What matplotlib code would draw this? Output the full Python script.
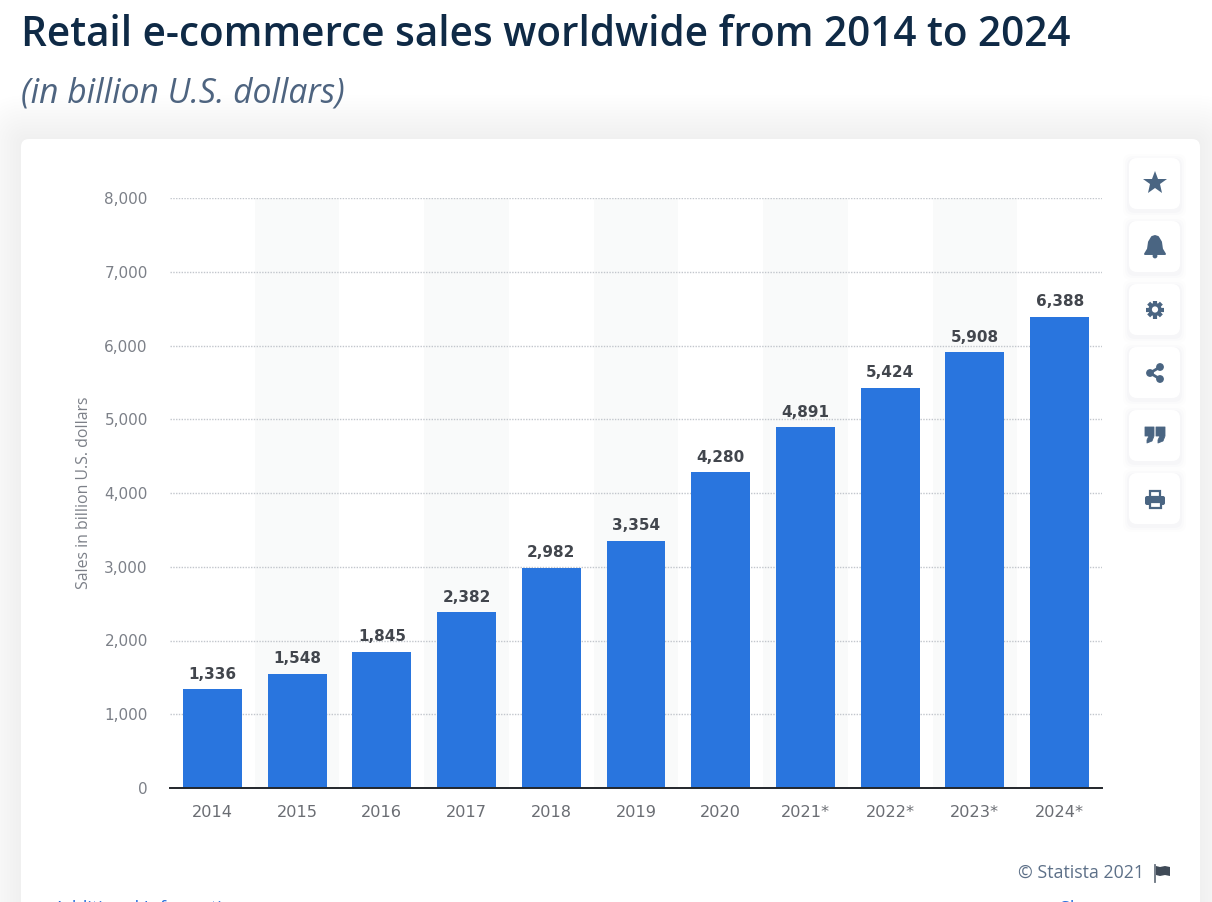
"""Retail e-commerce sales worldwide 2014-2024, Statista page screenshot look."""
import matplotlib
matplotlib.use("Agg")
import matplotlib.pyplot as plt
import matplotlib.patches as mpatches
import numpy as np

W, H = 1212, 902

years = ["2014", "2015", "2016", "2017", "2018", "2019", "2020", "2021*", "2022*", "2023*", "2024*"]
sales = [1336, 1548, 1845, 2382, 2982, 3354, 4280, 4891, 5424, 5908, 6388]
y_ticks = [0, 1000, 2000, 3000, 4000, 5000, 6000, 7000, 8000]

PAGE = "#ffffff"
BLUE = "#2975de"
ICON = "#4a6582"
TITLE = "#0f2a46"
SUB = "#4e6480"
TICK = "#7c8088"

plt.rcParams["font.family"] = ["Open Sans", "DejaVu Sans"]

fig = plt.figure(figsize=(W / 100, H / 100), dpi=100, facecolor=PAGE)


def box(x0, y0, x1, y1):
    # pixel box (top-left origin) -> figure fractions
    return [x0 / W, 1 - y1 / H, (x1 - x0) / W, (y1 - y0) / H]


# overlay in pixel coordinates for the page furniture
page = fig.add_axes([0, 0, 1, 1], zorder=0)
page.set_xlim(0, W)
page.set_ylim(H, 0)
page.axis("off")

# wide soft glow around the card
for spread in range(44, 0, -3):
    page.add_patch(mpatches.FancyBboxPatch(
        (21 - spread, 139 - spread), 1179 + 2 * spread, 900 + 2 * spread,
        boxstyle=f"round,pad=0,rounding_size={8 + spread}", fc="#a9bcd6", ec="none", alpha=0.0085))
page.add_patch(mpatches.FancyBboxPatch(
    (21, 139), 1179, 900, boxstyle="round,pad=0,rounding_size=8", fc="white", ec="none"))

page.text(21, 35, "Retail e-commerce sales worldwide from 2014 to 2024", fontsize=29.2,
          fontweight=600, color=TITLE, va="center", ha="left")
page.text(21, 93, "(in billion U.S. dollars)", fontsize=24.2, style="italic",
          color=SUB, va="center", ha="left")

# side buttons
button_tops = [158, 221, 284, 347, 410, 473]
for top in button_tops:
    for spread, alpha in [(6, 0.015), (4, 0.025), (2, 0.035)]:
        page.add_patch(mpatches.FancyBboxPatch(
            (1129 - spread, top - spread + 2), 51 + 2 * spread, 51 + 2 * spread,
            boxstyle="round,pad=0,rounding_size=8", fc="#8a9bb0", ec="none", alpha=alpha))
    page.add_patch(mpatches.FancyBboxPatch(
        (1129, top), 51, 51, boxstyle="round,pad=0,rounding_size=8", fc="white", ec="none"))

# star
page.plot(1155, 183, marker="*", ms=18, color=ICON, mew=0)
# bell
page.add_patch(mpatches.Polygon(
    [(1145, 254), (1148, 249), (1149, 242), (1152, 237), (1155, 236), (1158, 237), (1161, 242),
     (1162, 249), (1165, 254)], fc=ICON, ec=ICON, lw=1.4, joinstyle="round"))
page.add_patch(mpatches.Circle((1155, 256), 2.4, fc=ICON, ec="none"))
# gear
page.add_patch(mpatches.Circle((1155, 309.5), 6.6, fc=ICON, ec="none"))
for ang in np.deg2rad(np.arange(0, 360, 45)):
    page.plot([1155, 1155 + 9 * np.cos(ang)], [309.5, 309.5 + 9 * np.sin(ang)],
              color=ICON, lw=3, solid_capstyle="butt")
page.add_patch(mpatches.Circle((1155, 309.5), 3.1, fc="white", ec="none", zorder=5))
# share
page.plot([1160, 1150, 1160], [367, 373, 379], color=ICON, lw=2)
for cx, cy, r in [(1160, 367, 3.9), (1150, 373, 3.9), (1160, 379, 3.9)]:
    page.add_patch(mpatches.Circle((cx, cy), r, fc=ICON, ec="none"))
# quote marks
for dx in (1145, 1156):
    page.add_patch(mpatches.Polygon(
        [(dx, 427), (dx + 9, 427), (dx + 9, 436), (dx + 7, 441), (dx + 2, 443), (dx + 2, 440),
         (dx + 4, 436), (dx, 436)], fc=ICON, ec=ICON, lw=0.6, joinstyle="round"))
# printer
page.add_patch(mpatches.FancyBboxPatch((1145, 496), 20, 9, boxstyle="round,pad=0,rounding_size=2",
                                       fc=ICON, ec="none"))
page.add_patch(mpatches.Rectangle((1149.5, 491), 10, 6, fc="white", ec=ICON, lw=1.6))
page.add_patch(mpatches.Rectangle((1149.5, 502), 11, 6, fc="white", ec=ICON, lw=1.6))

# bottom of the card
page.text(1144, 873, "© Statista 2021", fontsize=12.8, color="#5d7088", va="center", ha="right")
page.plot([1154.5, 1154.5], [865, 882], color="#6a7480", lw=1.3)
page.add_patch(mpatches.Polygon(
    [(1156, 866), (1160, 867), (1165, 866), (1170, 867), (1170, 876), (1165, 875), (1160, 876),
     (1156, 875)], fc="#3f4a57", ec="none"))
# cut off by the bottom edge of the screenshot
page.text(54, 909, "Additional Information", fontsize=13, color="#2a6fdc", va="center", ha="left")
page.text(1167, 909, "Show source", fontsize=13, color="#2a6fdc", va="center", ha="right")

# chart
ax = fig.add_axes(box(170, 198, 1102, 788), zorder=1)
ax.patch.set_alpha(0)
x = np.arange(len(years))

for i in x[1::2]:
    ax.axvspan(i - 0.5, i + 0.5, color="#f9fafa", lw=0, zorder=0)
ax.bar(x, sales, width=0.695, color=BLUE, zorder=3)
for xi, val in zip(x, sales):
    ax.annotate(f"{val:,}", (xi, val), xytext=(0, 5.5), textcoords="offset points", ha="center",
                va="bottom", fontsize=11, fontweight="bold", color="#42464d", zorder=4,
                family="DejaVu Sans")

ax.set_xlim(-0.5, len(years) - 0.5)
ax.set_ylim(0, 8000)
ax.set_xticks(x, years)
ax.set_yticks(y_ticks, [f"{t:,}" for t in y_ticks])
ax.grid(axis="y", color="#c2c6cc", lw=1.0, ls=(0, (1, 1)), zorder=1)
ax.set_axisbelow(True)
ax.tick_params(axis="both", length=0, labelcolor=TICK, labelsize=11)
ax.tick_params(axis="x", pad=12, labelcolor="#6a6d73", labelsize=11.6)
ax.tick_params(axis="y", pad=16)
for label in ax.get_xticklabels() + ax.get_yticklabels():
    label.set_family("DejaVu Sans")
for side in ("top", "left", "right"):
    ax.spines[side].set_visible(False)
ax.spines["bottom"].set_color("#22262b")
ax.spines["bottom"].set_linewidth(1.4)
ax.spines["bottom"].set_zorder(5)
ax.set_ylabel("Sales in billion U.S. dollars", fontsize=11.4, color=TICK, labelpad=9)

fig.savefig("out.png", dpi=100, facecolor=PAGE)
